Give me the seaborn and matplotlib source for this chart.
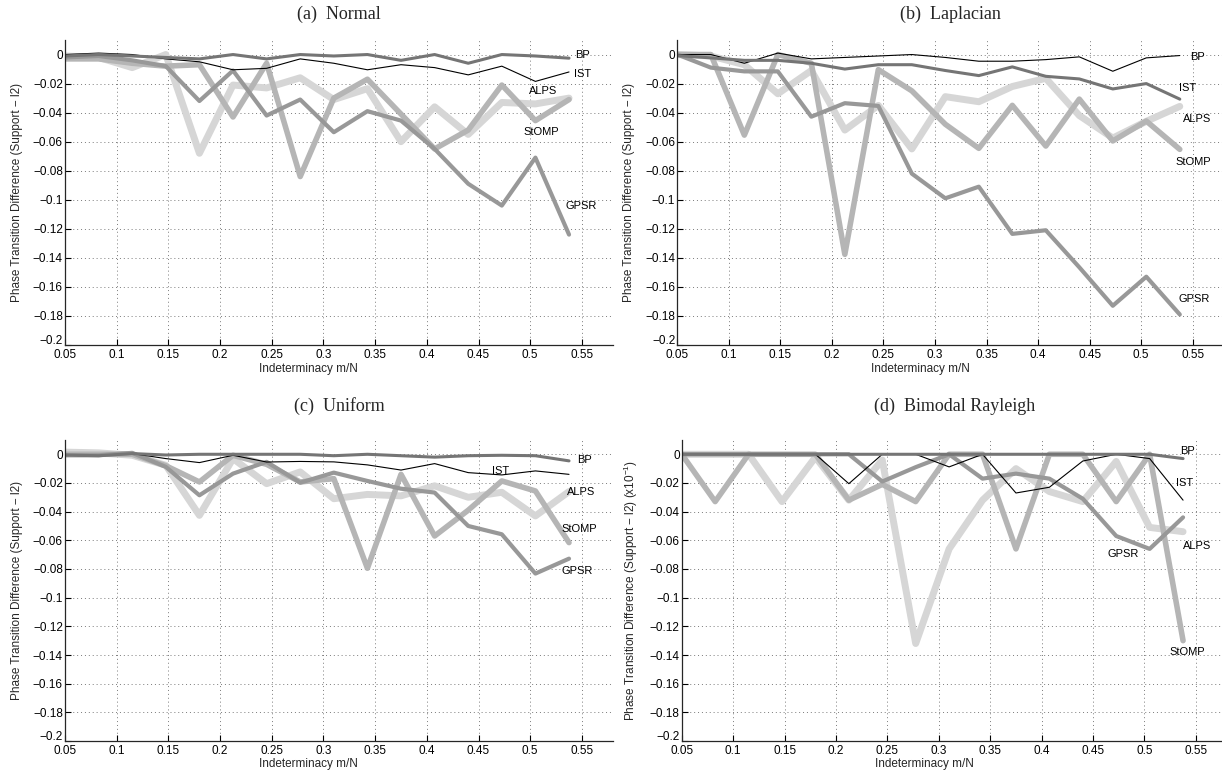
import numpy as np
import pandas as pd
import matplotlib
matplotlib.use('Agg')
import matplotlib.pyplot as plt
import matplotlib.transforms as mtransforms
import seaborn as sns
from matplotlib.ticker import FuncFormatter

# indeterminacy values (m/N) shared by all four panels
m_over_n = [0.05, 0.0825, 0.115, 0.1475, 0.18, 0.2125, 0.245, 0.2775,
            0.31, 0.3425, 0.375, 0.4075, 0.44, 0.4725, 0.505, 0.5375]

# (a) Normal
normal_bp = [-0.001, 0.0, -0.001, -0.002, -0.003, 0.0, -0.003, 0.0,
             -0.001, 0.0, -0.004, 0.0, -0.006, 0.0, -0.001, -0.0025]
normal_ist = [0.0, 0.001, 0.0, -0.003, -0.005, -0.0105, -0.0095, -0.003,
              -0.006, -0.0105, -0.007, -0.009, -0.014, -0.008, -0.0185, -0.012]
normal_alps = [-0.001, -0.002, -0.009, 0.0, -0.068, -0.021, -0.023, -0.016,
               -0.031, -0.0235, -0.060, -0.036, -0.055, -0.033, -0.034, -0.030]
normal_stomp = [-0.003, -0.003, -0.006, -0.008, -0.007, -0.043, -0.006, -0.084,
                -0.030, -0.017, -0.041, -0.065, -0.052, -0.021, -0.0455, -0.031]
normal_gpsr = [-0.002, -0.001, -0.004, -0.008, -0.032, -0.011, -0.042, -0.031,
               -0.0535, -0.039, -0.0455, -0.065, -0.089, -0.104, -0.071, -0.124]

# (b) Laplacian
laplace_bp = [-0.0007, -0.0023, -0.004, -0.004, -0.006, -0.010, -0.007, -0.007,
              -0.011, -0.0145, -0.0085, -0.015, -0.0168, -0.0237, -0.020, -0.0307]
laplace_ist = [0.0, 0.0, -0.006, 0.001, -0.003, -0.002, -0.001, 0.0,
               -0.002, -0.0046, -0.0046, -0.0035, -0.0016, -0.0115, -0.0023, -0.0007]
laplace_alps = [0.0, -0.001, -0.007, -0.027, -0.011, -0.052, -0.035, -0.065,
                -0.029, -0.0325, -0.022, -0.0164, -0.042, -0.0575, -0.046, -0.0357]
laplace_stomp = [0.0, 0.0, -0.0555, 0.0, -0.006, -0.1376, -0.0104, -0.025,
                 -0.048, -0.0646, -0.035, -0.063, -0.0307, -0.0595, -0.0458, -0.0653]
laplace_gpsr = [0.0, -0.009, -0.0116, -0.0116, -0.0428, -0.0335, -0.0354, -0.082,
                -0.099, -0.091, -0.1235, -0.121, -0.1465, -0.173, -0.153, -0.179]

# (c) Uniform
uniform_bp = [-0.0005, -0.001, 0.0005, -0.0005, 0.0, 0.0, 0.0, 0.0,
              -0.001, 0.0, -0.001, -0.002, -0.001, -0.0007, -0.001, -0.0046]
uniform_ist = [-0.0007, -0.0012, 0.0005, -0.003, -0.0058, -0.0007, -0.0054, -0.005,
               -0.0053, -0.0074, -0.011, -0.0065, -0.0128, -0.0144, -0.0116, -0.014]
uniform_alps = [0.0015, 0.001, -0.0007, -0.0077, -0.0426, -0.003, -0.0205, -0.0123,
                -0.031, -0.028, -0.029, -0.022, -0.030, -0.0265, -0.043, -0.026]
uniform_stomp = [0.0, 0.0, 0.0, -0.008, -0.0193, -0.0007, -0.007, -0.0193,
                 -0.017, -0.0795, -0.014, -0.057, -0.039, -0.0186, -0.0256, -0.0616]
uniform_gpsr = [-0.0007, -0.0007, 0.001, -0.0088, -0.0286, -0.0135, -0.0053, -0.0198,
                -0.0128, -0.0186, -0.024, -0.0267, -0.050, -0.0558, -0.0832, -0.0728]

# (d) Bimodal Rayleigh
rayleigh_bp = [0.0, 0.0, 0.0, 0.0, 0.0, 0.0, 0.0, 0.0,
               0.0, 0.0, 0.0, 0.0, 0.0, 0.0, 0.0, -0.003]
rayleigh_ist = [0.0, 0.0, 0.0, 0.0, 0.0, -0.0205, 0.0, 0.0,
                -0.0088, 0.0, -0.027, -0.023, -0.0047, 0.0, -0.003, -0.032]
rayleigh_alps = [0.0, 0.0, 0.0, -0.033, -0.002, -0.032, -0.004, -0.132,
                 -0.066, -0.032, -0.010, -0.026, -0.033, -0.005, -0.051, -0.054]
rayleigh_stomp = [0.0, -0.033, 0.0, 0.0, 0.0, -0.032, -0.021, -0.033,
                  0.0, 0.0, -0.066, 0.0, 0.0, -0.033, 0.0, -0.130]
rayleigh_gpsr = [0.0, 0.0, 0.0, 0.0, 0.0, 0.0, -0.019, -0.009,
                 0.0, -0.017, -0.0135, -0.017, -0.031, -0.057, -0.066, -0.044]

panels = [
    ('(a)  Normal', {'BP': normal_bp, 'IST': normal_ist, 'ALPS': normal_alps,
                     'StOMP': normal_stomp, 'GPSR': normal_gpsr}),
    ('(b)  Laplacian', {'BP': laplace_bp, 'IST': laplace_ist, 'ALPS': laplace_alps,
                        'StOMP': laplace_stomp, 'GPSR': laplace_gpsr}),
    ('(c)  Uniform', {'BP': uniform_bp, 'IST': uniform_ist, 'ALPS': uniform_alps,
                      'StOMP': uniform_stomp, 'GPSR': uniform_gpsr}),
    ('(d)  Bimodal Rayleigh', {'BP': rayleigh_bp, 'IST': rayleigh_ist, 'ALPS': rayleigh_alps,
                               'StOMP': rayleigh_stomp, 'GPSR': rayleigh_gpsr}),
]

# where the method names sit in each panel (data coords)
label_spots = [
    [('BP', 0.543, 0.0), ('IST', 0.542, -0.0133), ('ALPS', 0.499, -0.0253),
     ('StOMP', 0.493, -0.0536), ('GPSR', 0.534, -0.1046)],
    [('BP', 0.548, -0.002), ('IST', 0.537, -0.023), ('ALPS', 0.541, -0.0443),
     ('StOMP', 0.533, -0.0738), ('GPSR', 0.536, -0.168)],
    [('BP', 0.5455, -0.0042), ('IST', 0.463, -0.0116), ('ALPS', 0.536, -0.0263),
     ('StOMP', 0.530, -0.0519), ('GPSR', 0.530, -0.0814)],
    [('BP', 0.535, 0.0023), ('IST', 0.531, -0.020), ('ALPS', 0.537, -0.064),
     ('GPSR', 0.464, -0.0697), ('StOMP', 0.524, -0.138)],
]

ylabels = ['Phase Transition Difference (Support \u2212 l2)'] * 3 + \
          ['Phase Transition Difference (Support \u2212 l2) (x10$^{-1}$)']

xticks = [0.05, 0.1, 0.15, 0.2, 0.25, 0.3, 0.35, 0.4, 0.45, 0.5, 0.55]
yticks = [-0.2, -0.18, -0.16, -0.14, -0.12, -0.1, -0.08, -0.06, -0.04, -0.02, 0]

draw_order = ['ALPS', 'StOMP', 'GPSR', 'IST', 'BP']
palette = {'ALPS': '#d6d6d6', 'StOMP': '#b5b5b5', 'GPSR': '#989898',
           'IST': '#000000', 'BP': '#757575'}
widths = {'ALPS': 5.0, 'StOMP': 4.0, 'GPSR': 3.0, 'IST': 0.8, 'BP': 2.2}

sns.set_style("ticks")
plt.rcParams['font.family'] = ['Liberation Sans', 'DejaVu Sans']
plt.rcParams['mathtext.fontset'] = 'custom'
plt.rcParams['mathtext.rm'] = 'Liberation Sans'
plt.rcParams['mathtext.it'] = 'Liberation Sans:italic'

fig = plt.figure(figsize=(12.22, 7.74), dpi=100)
boxes = [[0.0532, 0.5543, 0.4484, 0.394],
         [0.5543, 0.5543, 0.447, 0.394],
         [0.0532, 0.0426, 0.4484, 0.389],
         [0.5579, 0.0426, 0.446, 0.389]]

fmt = FuncFormatter(lambda v, _: f'{v:g}'.replace('-', '\u2212'))
lift = mtransforms.ScaledTranslation(0, 4 / 72, fig.dpi_scale_trans)

for i, (title, series) in enumerate(panels):
    ax = fig.add_axes(boxes[i])
    rows = []
    for name in draw_order:
        for xv, yv in zip(m_over_n, series[name]):
            rows.append({'m/N': xv, 'diff': yv, 'method': name})
    df = pd.DataFrame(rows)
    sns.lineplot(data=df, x='m/N', y='diff', hue='method', size='method',
                 hue_order=draw_order, size_order=draw_order,
                 palette=palette, sizes=widths, estimator=None,
                 legend=False, ax=ax)

    ax.set_xlim(0.05, 0.58)
    ax.set_ylim(-0.2, 0.01)
    ax.set_xticks(xticks)
    ax.set_yticks(yticks)
    ax.xaxis.set_major_formatter(fmt)
    ax.yaxis.set_major_formatter(fmt)
    ax.grid(True, linestyle=(0, (1, 3)), color='#7a7a7a', linewidth=0.7)
    ax.set_axisbelow(True)
    for side in ['top', 'right']:
        ax.spines[side].set_visible(False)
    for side in ['left', 'bottom']:
        ax.spines[side].set_linewidth(0.9)
    ax.tick_params(direction='in', length=4, width=0.8, labelsize=8.5,
                   colors='black')
    ax.tick_params(axis='x', pad=3)
    ax.tick_params(axis='y', pad=1.5)

    # MATLAB-style: lowest y tick label sits a little higher
    fig.canvas.draw()
    lowest = ax.get_yticklabels()[0]
    lowest.set_transform(lowest.get_transform() + lift)

    ax.set_xlabel('Indeterminacy m/N', fontsize=8.5, labelpad=0)
    ax.xaxis.set_label_coords(0.445, -0.058)
    ax.set_ylabel(ylabels[i], fontsize=8.5)
    ax.yaxis.set_label_coords(-0.077, 0.5)

    ax.set_title(title, fontsize=13, family='Liberation Serif',
                 pad=15 if i < 2 else 21)

    for name, tx, ty in label_spots[i]:
        ax.text(tx, ty, name, fontsize=8, ha='left', va='center', color='black')

fig.savefig('out.png', dpi=100)
